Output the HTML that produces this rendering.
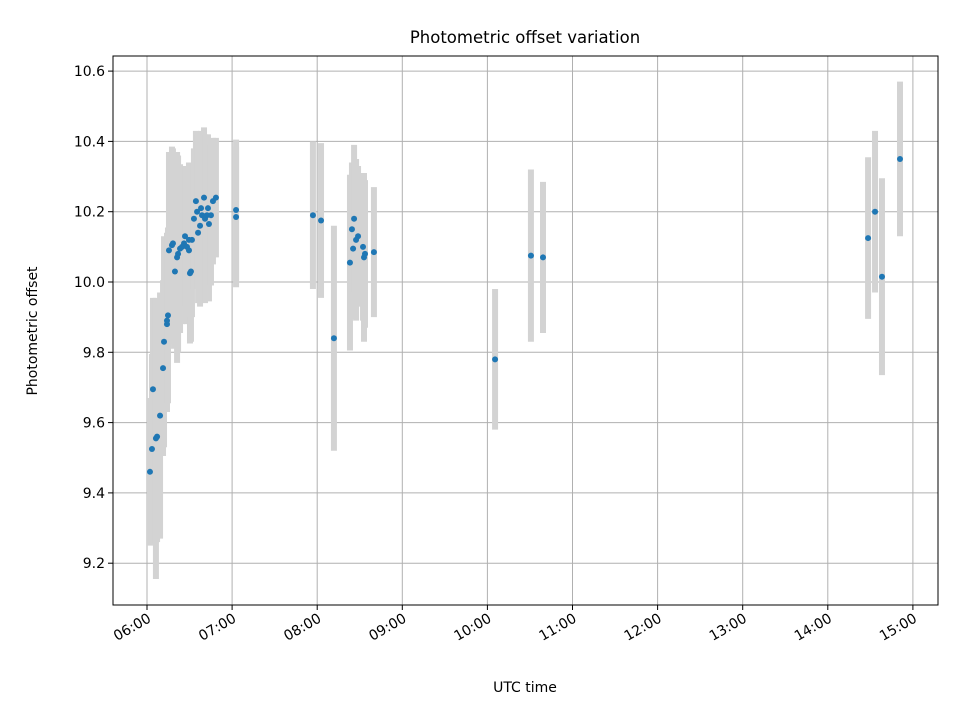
<!DOCTYPE html>
<html><head><meta charset="utf-8"><style>
body{margin:0;background:#fff}
svg{display:block;font-family:"DejaVu Sans","Liberation Sans",sans-serif}
</style></head><body>
<svg id="chart" width="960" height="720" viewBox="0 0 960 720" xmlns="http://www.w3.org/2000/svg">
<rect width="960" height="720" fill="#fff"/>
<g id="grid"></g><g id="bars"></g><g id="pts"></g><g id="axes"></g>
<text x="525" y="43" font-size="16.5" text-anchor="middle">Photometric offset variation</text>
<text x="525" y="692" font-size="14" text-anchor="middle">UTC time</text>
<text transform="translate(37,331) rotate(-90)" font-size="14" text-anchor="middle">Photometric offset</text>
</svg>
<script>
// minutes after 06:00 UTC
const times=[2.1,3.5,4.2,6.3,7.1,9.2,11.3,12,14.1,14.1,14.8,15.5,17.6,18.3,19.7,21.2,21.9,23.3,24.7,26.1,26.8,28.2,29.6,30.3,31,29.6,31.7,33.1,34.5,35.3,36,37.4,38.1,38.8,40.2,40.9,42.3,43,43.7,45.1,46.5,48.6,62.8,62.8,117,122.7,131.8,143.1,144.5,145.3,146,147.4,148.8,152.3,153,153.7,160,245.4,270.7,279.2,508.4,513.3,518.2,530.9];
const offsets=[9.46,9.525,9.695,9.555,9.56,9.62,9.755,9.83,9.88,9.89,9.905,10.09,10.105,10.11,10.03,10.07,10.08,10.095,10.10,10.11,10.13,10.10,10.09,10.025,10.03,10.12,10.12,10.18,10.23,10.20,10.14,10.16,10.21,10.19,10.24,10.18,10.19,10.21,10.165,10.19,10.23,10.24,10.205,10.185,10.19,10.175,9.84,10.055,10.15,10.095,10.18,10.12,10.13,10.10,10.07,10.08,10.085,9.78,10.075,10.07,10.125,10.2,10.015,10.35];
const errors=[0.21,0.27,0.26,0.4,0.3,0.35,0.25,0.3,0.25,0.25,0.25,0.28,0.28,0.27,0.22,0.3,0.28,0.24,0.22,0.2,0.2,0.22,0.2,0.2,0.2,0.22,0.22,0.2,0.2,0.22,0.2,0.23,0.22,0.22,0.2,0.24,0.23,0.21,0.22,0.2,0.18,0.17,0.2,0.2,0.21,0.22,0.32,0.25,0.19,0.2,0.21,0.23,0.2,0.21,0.24,0.21,0.185,0.2,0.245,0.215,0.23,0.23,0.28,0.22];
const yTicks=[9.2,9.4,9.6,9.8,10.0,10.2,10.4,10.6];
const xTickLabels=["06:00","07:00","08:00","09:00","10:00","11:00","12:00","13:00","14:00","15:00"];
const L=113,R=938,T=56,B=605;
const xs=m=>147+m*(85.1/60);
const ys=v=>282-(v-10)*351.5;
const NS="http://www.w3.org/2000/svg";
function mk(tag,attrs,parent){const e=document.createElementNS(NS,tag);for(const k in attrs)e.setAttribute(k,attrs[k]);parent.appendChild(e);return e;}
const grid=document.getElementById('grid'),axes=document.getElementById('axes'),bars=document.getElementById('bars'),pts=document.getElementById('pts');
xTickLabels.forEach((lab,i)=>{
  const x=xs(i*60);
  const gl=mk('line',{x1:x,x2:x,y1:T,y2:B,stroke:'#b0b0b0','stroke-width':1},grid);
  
  
  mk('line',{x1:x,x2:x,y1:B,y2:B+5,stroke:'#000'},axes);
  const t=mk('text',{x:x+5,y:B+16,'font-size':14,'text-anchor':'end',transform:`rotate(-30 ${x+5} ${B+16})`},axes);
  t.textContent=lab;
  
  
});
yTicks.forEach(v=>{
  const y=ys(v);
  const gl=mk('line',{x1:L,x2:R,y1:y,y2:y,stroke:'#b0b0b0','stroke-width':1},grid);
  
  
  mk('line',{x1:L-5,x2:L,y1:y,y2:y,stroke:'#000'},axes);
  const t=mk('text',{x:L-8,y:y+5,'font-size':14,'text-anchor':'end'},axes);
  t.textContent=v.toFixed(1);
  
  
});
const fr=mk('rect',{x:L,y:T,width:R-L,height:B-T,fill:'none',stroke:'#000','stroke-width':1},axes);


times.forEach((m,i)=>{
  const x=xs(m);
  const b=mk('line',{x1:x,x2:x,y1:ys(offsets[i]+errors[i]),y2:ys(offsets[i]-errors[i]),stroke:'#d3d3d3','stroke-width':6},bars);
  
  
});
times.forEach((m,i)=>{
  const c=mk('circle',{cx:xs(m),cy:ys(offsets[i]),r:3,fill:'#1f77b4'},pts);
  
  
});
</script>
</body></html>
